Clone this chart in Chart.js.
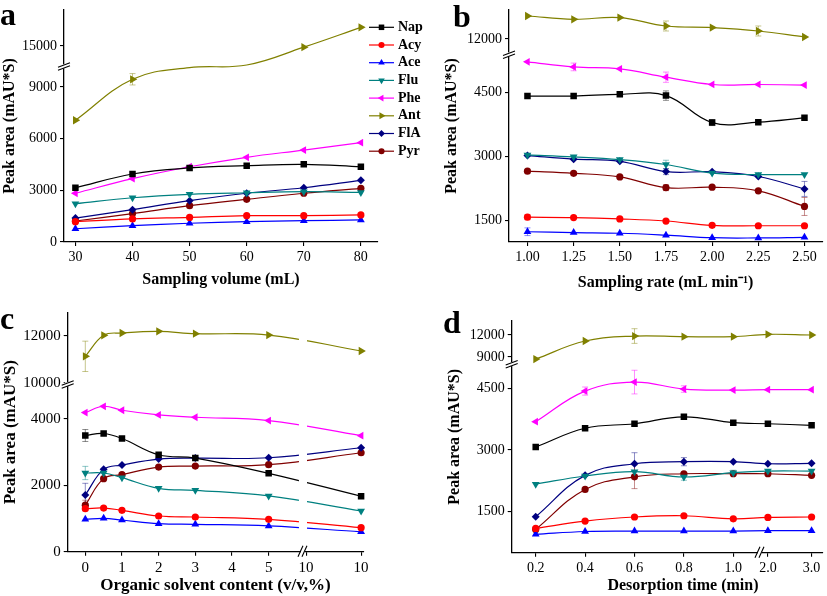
<!DOCTYPE html>
<html><head><meta charset="utf-8">
<script src="https://cdn.jsdelivr.net/npm/chart.js@4.4.1/dist/chart.umd.min.js"></script>
<style>
html,body{margin:0;padding:0;background:#fff;width:827px;height:596px;overflow:hidden;position:relative}
canvas{position:absolute}
</style></head><body>
<canvas id="ca" width="440" height="296" style="left:0;top:0;width:440px;height:296px"></canvas>
<canvas id="cb" width="387" height="296" style="left:440px;top:0;width:387px;height:296px"></canvas>
<canvas id="cc" width="440" height="300" style="left:0;top:296px;width:440px;height:300px"></canvas>
<canvas id="cd" width="387" height="300" style="left:440px;top:296px;width:387px;height:300px"></canvas>
<script>
// ---------------- DATA ----------------
const seriesNames = ['Nap','Acy','Ace','Flu','Phe','Ant','FlA','Pyr'];

// (a) Sampling volume
const volumeA = [30,40,50,60,70,80];
const napA = [3150,3950,4300,4430,4510,4370];
const acyA = [1180,1340,1430,1530,1530,1570];
const aceA = [770,950,1090,1180,1240,1280];
const fluA = [2220,2570,2770,2860,2920,2880];
const pheA = [2830,3680,4370,4920,5340,5770];
const antA = [7070,9450,10500,13000,14900,16550];
const flaA = [1390,1880,2400,2830,3150,3580];
const pyrA = [1220,1650,2110,2480,2830,3120];
const errAntA = [0,330,0,0,0,0];
const xTicksA = [30,40,50,60,70,80];
const yTicksA = [0,3000,6000,9000,15000];

// (b) Sampling rate
const rateB = [1.00,1.25,1.50,1.75,2.00,2.25,2.50];
const napB = [4410,4410,4450,4420,3790,3800,3900];
const acyB = [1580,1570,1540,1490,1390,1380,1380];
const aceB = [1240,1220,1205,1160,1100,1095,1110];
const fluB = [3035,2990,2925,2810,2610,2575,2575];
const pheB = [5210,5090,5045,4850,4680,4680,4665];
const antB = [13150,12985,13070,12650,12570,12400,12100];
const flaB = [3020,2935,2885,2645,2640,2530,2240];
const pyrB = [2655,2605,2520,2270,2280,2195,1830];
const errNapB = [0,0,0,110,70,0,0];
const errPheB = [0,90,0,120,0,0,0];
const errAntB = [0,0,0,250,0,250,0];
const errFluB = [0,0,0,100,0,0,0];
const errFlaB = [0,0,0,70,0,0,175];
const errPyrB = [0,0,0,70,0,0,210];
const errAcyB = [60,0,0,0,0,0,0];
const errAceB = [90,0,0,0,0,0,0];
const xTicksB = [1.00,1.25,1.50,1.75,2.00,2.25,2.50];
const yTicksB = [1500,3000,4500,12000];

// (c) Organic solvent content
const solventC = [0,0.5,1,2,3,5,10];
const napC = [3500,3560,3410,2920,2820,2360,1670];
const acyC = [1295,1315,1245,1075,1045,975,725];
const aceC = [975,1005,955,845,825,775,600];
const fluC = [2370,2370,2230,1910,1850,1680,1225];
const pheC = [4190,4380,4260,4120,4050,3950,3495];
const antC = [11130,12030,12130,12200,12100,12040,11360];
const flaC = [1710,2480,2610,2790,2820,2830,3130];
const pyrC = [1400,2200,2320,2550,2580,2620,2980];
const errAntC = [650,0,0,0,0,0,0];
const errNapC = [180,0,0,0,0,0,0];
const errFluC = [200,0,0,0,0,0,0];
const errFlaC = [350,0,0,0,0,0,0];
const errPyrC = [150,0,0,0,0,0,0];
const xTicksC = [0,1,2,3,4,5,9.5,10];
const xTickLabelsC = ['0','1','2','3','4','5','10','10'];
const yTicksC = [0,2000,4000,10000,12000];

// (d) Desorption time
const timeD = [0.2,0.4,0.6,0.8,1.0,2.0,3.0];
const napD = [3070,3530,3640,3810,3665,3640,3600];
const acyD = [1075,1255,1355,1385,1310,1345,1355];
const aceD = [930,1000,1010,1010,1010,1020,1020];
const fluD = [2160,2360,2465,2335,2440,2480,2480];
const pheD = [3690,4440,4660,4490,4465,4475,4475];
const antD = [8720,11180,11860,11770,11770,12090,12000];
const flaD = [1360,2375,2660,2710,2710,2660,2670];
const pyrD = [1050,2030,2340,2415,2415,2415,2375];
const errAntD = [0,0,1000,0,0,0,0];
const errPheD = [0,100,290,80,0,0,0];
const errFlaD = [0,0,270,100,0,0,0];
const errPyrD = [0,0,290,0,0,0,0];
const errFluD = [0,0,0,80,60,0,0];
const xTicksD = [0.2,0.4,0.6,0.8,1.0,2.0,3.0];
const yTicksD = [1500,3000,4500,9000,12000];

// ---------------- STYLE ----------------
const FONT = "'Liberation Serif','Times New Roman',serif";
const STY = {
  Nap:{c:'#000000', ps:'rect', rot:0, r:4.6},
  Acy:{c:'#ff0000', ps:'circle', rot:0, r:3.6},
  Ace:{c:'#0000ff', ps:'triangle', rot:0, r:4.5},
  Flu:{c:'#008080', ps:'triangle', rot:180, r:4.5},
  Phe:{c:'#ff00ff', ps:'triangle', rot:-90, r:4.5},
  Ant:{c:'#808000', ps:'triangle', rot:90, r:4.8},
  FlA:{c:'#000080', ps:'rectRot', rot:0, r:4.0},
  Pyr:{c:'#800000', ps:'circle', rot:0, r:3.6}
};

// ---------------- BROKEN (piecewise linear) SCALE ----------------
const LinearScale = Chart.LinearScale || Chart.registry.getScale('linear');
class BrokenScale extends LinearScale {
  determineDataLimits() {
    const s = this.options.segments;
    this.min = s[0].min; this.max = s[s.length - 1].max;
  }
  buildTicks() { return this.options.tickValues.map(v => ({value: v})); }
  _frac(v) {
    const S = this.options.segments;
    const lin = (s, x) => s.a + (x - s.min) / (s.max - s.min) * (s.b - s.a);
    if (v <= S[0].min) return lin(S[0], v);
    for (let i = 0; i < S.length; i++) {
      const s = S[i];
      if (v <= s.max) {
        if (v >= s.min) return lin(s, v);
        const p = S[i - 1];
        return p.b + (v - p.max) / (s.min - p.max) * (s.a - p.b);
      }
    }
    return lin(S[S.length - 1], v);
  }
  inGap(v) {
    const S = this.options.segments;
    for (let i = 1; i < S.length; i++) if (v > S[i - 1].max && v < S[i].min) return true;
    return false;
  }
  breakFracs() {
    const S = this.options.segments, out = [];
    for (let i = 1; i < S.length; i++) out.push([S[i - 1].b, S[i].a]);
    return out;
  }
  _pix(f) { return this.isHorizontal() ? this.left + f * this.width : this.bottom - f * this.height; }
  getPixelForValue(v) {
    if (v === null || v === undefined || isNaN(v)) return NaN;
    return this._pix(this._frac(v));
  }
  getValueForPixel(p) {
    const f = this.isHorizontal() ? (p - this.left) / this.width : (this.bottom - p) / this.height;
    const S = this.options.segments;
    for (const s of S) if (f <= s.b) return s.min + (f - s.a) / (s.b - s.a) * (s.max - s.min);
    const l = S[S.length - 1];
    return l.min + (f - l.a) / (l.b - l.a) * (l.max - l.min);
  }
}
BrokenScale.id = 'broken';
BrokenScale.defaults = {};
Chart.register(BrokenScale);

// ---------------- PLUGINS ----------------
function fade(hex, a) {
  const n = parseInt(hex.slice(1), 16);
  return `rgba(${(n >> 16) & 255},${(n >> 8) & 255},${n & 255},${a})`;
}
const decoPlugin = {
  id: 'deco',
  beforeDatasetsDraw(chart) {
    const ctx = chart.ctx, ys = chart.scales.y;
    chart.data.datasets.forEach((d, i) => {
      if (!d.errors) return;
      const meta = chart.getDatasetMeta(i);
      ctx.save();
      ctx.strokeStyle = fade(d.borderColor, 0.45);
      ctx.lineWidth = 1;
      d.errors.forEach((e, j) => {
        if (!e) return;
        const pt = meta.data[j];
        const v = d.data[j].y;
        const y1 = ys.getPixelForValue(v + e), y2 = ys.getPixelForValue(v - e);
        ctx.beginPath();
        ctx.moveTo(pt.x, y1); ctx.lineTo(pt.x, y2);
        ctx.moveTo(pt.x - 3, y1); ctx.lineTo(pt.x + 3, y1);
        ctx.moveTo(pt.x - 3, y2); ctx.lineTo(pt.x + 3, y2);
        ctx.stroke();
      });
      ctx.restore();
    });
  },
  afterDraw(chart, args, opts) {
    const ctx = chart.ctx, xs = chart.scales.x, ys = chart.scales.y;
    const ca = chart.chartArea;
    ctx.save();
    if (opts.gapX) {
      xs.breakFracs().forEach(([f1, f2]) => {
        const p1 = xs._pix(f1) - 2, p2 = xs._pix(f2) + 2;
        ctx.fillStyle = '#fff';
        ctx.fillRect(p1, ca.top, p2 - p1, ca.bottom - ca.top - 1);
      });
    }
    ctx.strokeStyle = '#000';
    ctx.lineWidth = 1.1;
    ys.breakFracs().forEach(([f1, f2]) => {
      const yb = ys._pix((f1 + f2) / 2), x0 = ca.left;
      ctx.fillStyle = '#fff';
      ctx.fillRect(x0 - 3, yb - 2, 6, 4);
      ctx.beginPath();
      ctx.moveTo(x0 - 6, yb + 1); ctx.lineTo(x0 + 6, yb - 3.5);
      ctx.moveTo(x0 - 6, yb + 4); ctx.lineTo(x0 + 6, yb - 0.5);
      ctx.stroke();
    });
    xs.breakFracs().forEach(([f1, f2]) => {
      const xb = xs._pix((f1 + f2) / 2), y0 = ca.bottom;
      ctx.fillStyle = '#fff';
      ctx.fillRect(xb - 2, y0 - 3, 4, 6);
      ctx.beginPath();
      ctx.moveTo(xb - 5, y0 + 5); ctx.lineTo(xb, y0 - 6);
      ctx.moveTo(xb - 1, y0 + 5); ctx.lineTo(xb + 4, y0 - 6);
      ctx.stroke();
    });
    if (opts.letter) {
      ctx.fillStyle = '#000';
      ctx.font = `bold 32px ${FONT}`;
      ctx.textBaseline = 'alphabetic';
      ctx.textAlign = 'left';
      ctx.fillText(opts.letter, opts.lx, opts.ly);
    }
    if (opts.legend) {
      const L = opts.legend;
      chart.data.datasets.forEach((d, i) => {
        const y = L.y + i * L.dy;
        const s = STY[d.label];
        ctx.strokeStyle = d.borderColor; ctx.lineWidth = 1.2;
        ctx.beginPath(); ctx.moveTo(L.x, y); ctx.lineTo(L.x + L.w, y); ctx.stroke();
        ctx.fillStyle = d.borderColor;
        Chart.helpers.drawPoint(ctx, {pointStyle: s.ps, rotation: s.rot, radius: s.r * 0.85, borderWidth: 0}, L.x + L.w / 2, y);
        ctx.fillStyle = '#000';
        ctx.font = `bold 14px ${FONT}`;
        ctx.textBaseline = 'middle';
        ctx.textAlign = 'left';
        ctx.fillText(d.label, L.x + L.w + 4, y);
      });
    }
    ctx.restore();
  }
};

// ---------------- BUILDERS ----------------
function ds(name, xs, ys, errs) {
  const s = STY[name];
  return {
    label: name,
    data: xs.map((x, i) => ({x: x, y: ys[i]})),
    borderColor: s.c, backgroundColor: s.c,
    pointStyle: s.ps, pointRotation: s.rot,
    pointRadius: (c) => {
      const sc = c.chart.scales && c.chart.scales.y;
      const v = c.raw ? c.raw.y : null;
      return (sc && sc.inGap && v !== null && sc.inGap(v)) ? 0 : s.r;
    },
    pointBorderWidth: 0, pointHoverRadius: s.r,
    borderWidth: 1.2, tension: 0.4, fill: false,
    errors: errs
  };
}

function axisCommon() {
  return {
    grid: {display: true, drawOnChartArea: false, drawTicks: true, tickLength: 4, color: '#000', lineWidth: 1.1},
    border: {display: true, color: '#000', width: 1.3}
  };
}

function buildChart(id, o) {
  const tickFont = {family: FONT, size: o.tickSize, weight: 'normal'};
  const titleFont = {family: FONT, size: o.titleSize, weight: 'bold'};
  return new Chart(document.getElementById(id), {
    type: 'line',
    data: {datasets: o.datasets},
    options: {
      responsive: false, animation: false,
      layout: {padding: {top: o.padTop, right: o.padRight, left: 0, bottom: 0}},
      plugins: {legend: {display: false}, tooltip: {enabled: false}, deco: o.deco},
      scales: {
        x: Object.assign(axisCommon(), {
          type: 'broken', position: 'bottom',
          segments: o.xSeg, tickValues: o.xTicks,
          ticks: {callback: (v, i) => o.xLabels[i], autoSkip: false, maxRotation: 0, minRotation: 0, color: '#000', font: tickFont, padding: 3},
          title: {display: true, text: o.xTitle, color: '#000', font: titleFont, padding: {top: 0, bottom: o.xTitlePad}},
          afterFit: (s) => { s.height = o.xH; s.paddingLeft = 0; s.paddingRight = 0; s.paddingTop = 0; s.paddingBottom = 0; }
        }),
        y: Object.assign(axisCommon(), {
          type: 'broken', position: 'left',
          segments: o.ySeg, tickValues: o.yTicks,
          ticks: {callback: (v, i) => String(o.yTicks[i]), autoSkip: false, color: '#000', font: tickFont, padding: 3},
          title: {display: true, text: 'Peak area (mAU*S)', color: '#000', font: titleFont, padding: {top: o.yTitlePad, bottom: 0}},
          afterFit: (s) => { s.width = o.yW; s.paddingLeft = 0; s.paddingRight = 0; s.paddingTop = 0; s.paddingBottom = 0; }
        })
      }
    },
    plugins: [decoPlugin]
  });
}

// ---------------- PANEL A ----------------
buildChart('ca', {
  datasets: [
    ds('Nap', volumeA, napA), ds('Acy', volumeA, acyA), ds('Ace', volumeA, aceA),
    ds('Flu', volumeA, fluA), ds('Phe', volumeA, pheA), ds('Ant', volumeA, antA, errAntA),
    ds('FlA', volumeA, flaA), ds('Pyr', volumeA, pyrA)
  ],
  xSeg: [{min: 28.0, max: 83.0, a: 0, b: 1}],
  ySeg: [{min: 0, max: 10100, a: 0, b: 0.7496}, {min: 13450, max: 18000, a: 0.765, b: 1}],
  xTicks: xTicksA, xLabels: xTicksA.map(String), yTicks: yTicksA,
  xTitle: 'Sampling volume (mL)',
  tickSize: 14, titleSize: 16,
  padTop: 10, padRight: 62, yW: 64, xH: 54, xTitlePad: 7, yTitlePad: 0,
  deco: {letter: 'a', lx: 0, ly: 25, legend: {x: 369, y: 27.3, dy: 17.7, w: 25}}
});

// ---------------- PANEL B ----------------
buildChart('cb', {
  datasets: [
    ds('Nap', rateB, napB, errNapB), ds('Acy', rateB, acyB, errAcyB), ds('Ace', rateB, aceB, errAceB),
    ds('Flu', rateB, fluB, errFluB), ds('Phe', rateB, pheB, errPheB), ds('Ant', rateB, antB, errAntB),
    ds('FlA', rateB, flaB, errFlaB), ds('Pyr', rateB, pyrB, errPyrB)
  ],
  xSeg: [{min: 0.90, max: 2.596, a: 0, b: 1}],
  ySeg: [{min: 1000, max: 5350, a: 0, b: 0.8026}, {min: 11300, max: 13450, a: 0.8147, b: 1}],
  xTicks: xTicksB, xLabels: xTicksB.map(v => v.toFixed(2)), yTicks: yTicksB,
  xTitle: 'Sampling rate (mL min\u207B\u00B9)',
  tickSize: 14, titleSize: 16,
  padTop: 10, padRight: 4, yW: 69, xH: 54, xTitlePad: 4, yTitlePad: 2,
  deco: {letter: 'b', lx: 13, ly: 27}
});

// ---------------- PANEL C ----------------
buildChart('cc', {
  datasets: [
    ds('Nap', solventC, napC, errNapC), ds('Acy', solventC, acyC), ds('Ace', solventC, aceC),
    ds('Flu', solventC, fluC, errFluC), ds('Phe', solventC, pheC), ds('Ant', solventC, antC, errAntC),
    ds('FlA', solventC, flaC, errFlaC), ds('Pyr', solventC, pyrC, errPyrC)
  ],
  xSeg: [{min: -0.48, max: 5.88, a: 0, b: 0.789}, {min: 9.49, max: 10.02, a: 0.8028, b: 1}],
  ySeg: [{min: 0, max: 5000, a: 0, b: 0.6946}, {min: 10000, max: 13000, a: 0.7071, b: 1}],
  xTicks: xTicksC, xLabels: xTickLabelsC, yTicks: yTicksC,
  xTitle: 'Organic solvent content (v/v,%)',
  tickSize: 15, titleSize: 17,
  padTop: 16.7, padRight: 76.7, yW: 67.7, xH: 44.3, xTitlePad: 0, yTitlePad: 0,
  deco: {letter: 'c', lx: 0, ly: 33, gapX: true}
});

// ---------------- PANEL D ----------------
buildChart('cd', {
  datasets: [
    ds('Nap', timeD, napD), ds('Acy', timeD, acyD), ds('Ace', timeD, aceD),
    ds('Flu', timeD, fluD, errFluD), ds('Phe', timeD, pheD, errPheD), ds('Ant', timeD, antD, errAntD),
    ds('FlA', timeD, flaD, errFlaD), ds('Pyr', timeD, pyrD, errPyrD)
  ],
  xSeg: [{min: 0.1028, max: 1.1, a: 0, b: 0.7932}, {min: 1.864, max: 3.243, a: 0.806, b: 1}],
  ySeg: [{min: 480, max: 5050, a: 0, b: 0.805}, {min: 8318, max: 13910, a: 0.823, b: 1}],
  xTicks: xTicksD, xLabels: xTicksD.map(v => v.toFixed(1)), yTicks: yTicksD,
  xTitle: '        Desorption time (min)',
  tickSize: 14, titleSize: 16,
  padTop: 25, padRight: 1, yW: 71.7, xH: 43.3, xTitlePad: 0.3, yTitlePad: 5,
  deco: {letter: 'd', lx: 3, ly: 37}
});
</script>
</body></html>
